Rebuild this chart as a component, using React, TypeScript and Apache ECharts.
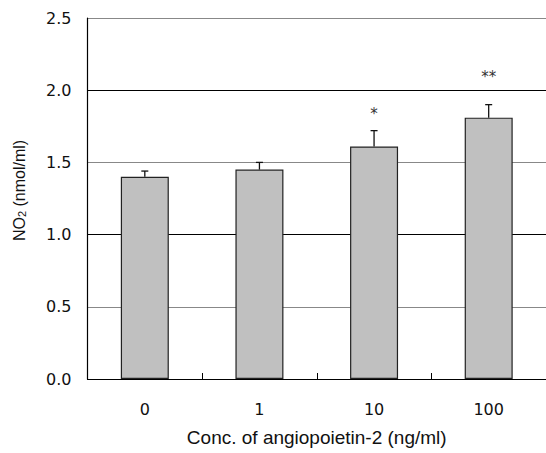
import React, { useEffect, useRef } from "react";
import * as echarts from "echarts";

const categories = ["0", "1", "10", "100"];
const means = [1.4, 1.45, 1.61, 1.81];
const errors = [0.04, 0.05, 0.11, 0.09];
const sigMarks = ["", "", "*", "**"];
const sigLevels = [null, null, 1.86, 2.12];
const yTicks = [0, 0.5, 1.0, 1.5, 2.0, 2.5];

export default function App() {
  const ref = useRef<HTMLDivElement>(null);
  useEffect(() => {
    if (!ref.current) return;
    const chart = echarts.init(ref.current, undefined, { renderer: "svg" });
    const errData = categories.map((c, i) => [i, means[i], means[i] + errors[i]]);
    const sigData = categories
      .map((c, i) => [i, sigLevels[i], sigMarks[i]])
      .filter((d) => d[1] !== null);
    chart.setOption({
      animation: false,
      backgroundColor: "#ffffff",
      grid: { left: 87.5, right: -3.5, top: 18, bottom: 74, containLabel: false },
      xAxis: {
        type: "category",
        data: categories,
        name: "Conc. of angiopoietin-2 (ng/ml)",
        nameLocation: "middle",
        nameGap: 49,
        nameTextStyle: { fontFamily: "Liberation Sans", fontSize: 19, color: "#111" },
        axisLine: { lineStyle: { color: "#000", width: 1.2 } },
        axisTick: { show: true, inside: true, length: 6, lineStyle: { color: "#000" } },
        axisLabel: { margin: 22, fontFamily: "DejaVu Sans", fontSize: 16, color: "#111" },
        splitLine: { show: false },
      },
      yAxis: {
        type: "value",
        min: yTicks[0],
        max: yTicks[yTicks.length - 1],
        interval: 0.5,
        name: "NO{sub|2} (nmol/ml)",
        nameLocation: "middle",
        nameGap: 60,
        nameTextStyle: {
          fontFamily: "Liberation Sans",
          fontSize: 16,
          color: "#111",
          padding: [0, 0, 0, 16],
          rich: {
            sub: { fontFamily: "Liberation Sans", fontSize: 11, color: "#111", verticalAlign: "bottom", padding: [5, 0, 0, 0] },
          },
        },
        axisLine: { show: true, lineStyle: { color: "#000", width: 1.2 } },
        axisTick: { show: false },
        axisLabel: {
          margin: 16,
          fontFamily: "DejaVu Sans",
          fontSize: 16,
          color: "#111",
          formatter: (v: number) => v.toFixed(1),
        },
        splitLine: { show: true, lineStyle: { color: ["#000000", "#888888"], width: 1.2 } },
      },
      series: [
        {
          type: "bar",
          data: means,
          barWidth: 48,
          itemStyle: { color: "#c0c0c0", borderColor: "#222", borderWidth: 1.2 },
          z: 2,
        },
        {
          type: "custom",
          data: errData,
          z: 3,
          renderItem: (params: any, api: any) => {
            const x = api.coord([api.value(0), api.value(1)])[0];
            const y0 = api.coord([api.value(0), api.value(1)])[1];
            const y1 = api.coord([api.value(0), api.value(2)])[1];
            const style = { stroke: "#111", lineWidth: 1.3 };
            return {
              type: "group",
              children: [
                { type: "line", shape: { x1: x, y1: y0, x2: x, y2: y1 }, style },
                { type: "line", shape: { x1: x - 3.5, y1: y1, x2: x + 3.5, y2: y1 }, style },
              ],
            };
          },
        },
        {
          type: "custom",
          data: sigData,
          z: 3,
          renderItem: (params: any, api: any) => {
            const p = api.coord([api.value(0), api.value(1)]);
            const idx = params.dataIndex;
            return {
              type: "text",
              x: p[0],
              y: p[1] + 4,
              style: {
                text: sigData[idx][2] as string,
                textAlign: "center",
                textVerticalAlign: "middle",
                fontFamily: "DejaVu Sans",
                fontSize: 15,
                fill: "#333",
              },
            };
          },
        },
      ],
    });
    return () => chart.dispose();
  }, []);
  return <div ref={ref} style={{ width: 546, height: 453, position: "absolute", left: 0, top: 0 }} />;
}
